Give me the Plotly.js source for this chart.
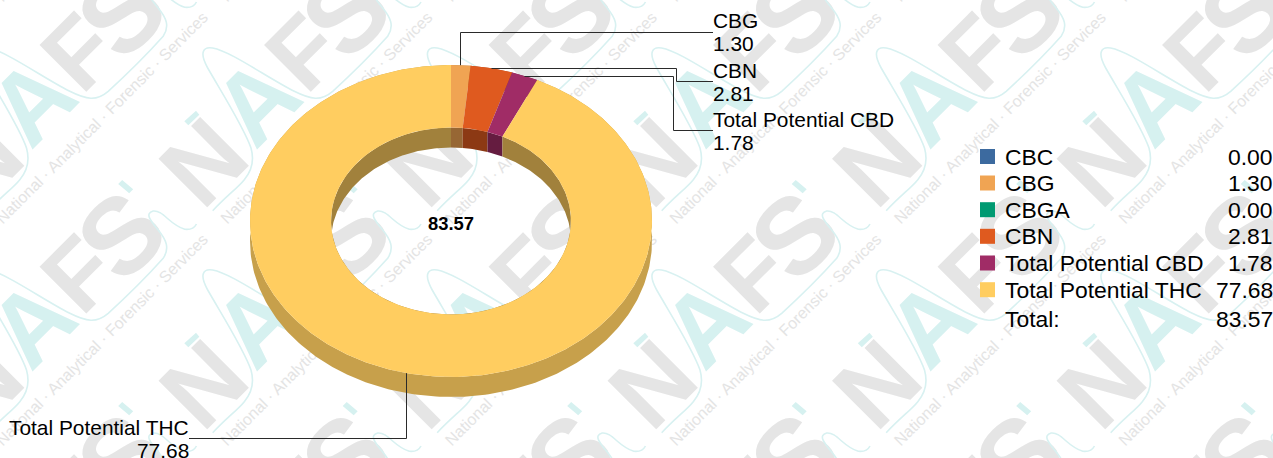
<!DOCTYPE html>
<html>
<head>
<meta charset="utf-8">
<script src="https://cdn.plot.ly/plotly-3.0.1.min.js"></script>
<style>html,body{margin:0;padding:0;background:#fff;overflow:hidden}#chart{width:1273px;height:458px}
.layer-below .shapelayer{filter:blur(.6px)}</style>
</head>
<body>
<div id="chart"></div>
<script>
// ---------- chart data ----------
const categories = ["CBC", "CBG", "CBGA", "CBN", "Total Potential CBD", "Total Potential THC"];
const values = [0.00, 1.30, 0.00, 2.81, 1.78, 77.68];
const totalLabel = "Total:";
const totalValue = 83.57;
const seriesColors = ["#3C6A9F", "#F0A453", "#009A72", "#DF5A1F", "#A02C66", "#FFCD60"];

// ---------- layout constants ----------
const FONT = '"Liberation Sans", Arial, sans-serif';
const W = 1273, H = 458;
const CX = 451, CY = 221, RX = 201, RY = 156, IRX = 120, IRY = 93.5, DEPTH = 20;

function shade(hex, f) {
  const n = parseInt(hex.slice(1), 16);
  const c = [n >> 16, (n >> 8) & 255, n & 255].map(v => Math.round(v * f));
  return 'rgb(' + c.join(',') + ')';
}
function pt(rx, ry, deg, dy) {
  const a = deg * Math.PI / 180;
  return [CX + rx * Math.sin(a), CY - ry * Math.cos(a) + (dy || 0)];
}
function arc(rx, ry, a0, a1, dy) {
  const out = [], n = Math.max(2, Math.ceil(Math.abs(a1 - a0)));
  for (let i = 0; i <= n; i++) out.push(pt(rx, ry, a0 + (a1 - a0) * i / n, dy));
  return out;
}
function poly(points, color) {
  return {
    type: 'scatter', mode: 'lines', x: points.map(p => p[0]), y: points.map(p => p[1]),
    fill: 'toself', fillcolor: color, line: {width: 0, color: color}, hoverinfo: 'skip', showlegend: false
  };
}

const sum = values.reduce((a, b) => a + b, 0);
const sectors = [];
let acc = 0;
values.forEach((v, i) => {
  const a0 = acc / sum * 360; acc += v;
  const a1 = acc / sum * 360;
  if (v > 0) sectors.push({i: i, a0: a0, a1: a1, mid: (a0 + a1) / 2});
});

const traces = [];
// side walls
sectors.forEach(s => traces.push(poly(
  arc(RX, RY, s.a0, s.a1).concat(arc(RX, RY, s.a1, s.a0, DEPTH)), shade(seriesColors[s.i], 0.78))));
sectors.forEach(s => traces.push(poly(
  arc(IRX, IRY, s.a0, s.a1).concat(arc(IRX, IRY, s.a1, s.a0, DEPTH)), shade(seriesColors[s.i], 0.63))));
// top faces
sectors.forEach(s => traces.push(poly(
  arc(RX, RY, s.a0, s.a1).concat(arc(IRX, IRY, s.a1, s.a0)), seriesColors[s.i])));

// leader lines: elbows for each labelled slice
const leaderRoute = {
  1: [[null, 32.5], [713, 32.5]],
  3: [[null, 68.5], [676.5, 68.5], [676.5, 81.5], [713, 81.5]],
  4: [[null, 76.5], [673.5, 76.5], [673.5, 130.5], [713, 130.5]],
  5: [[null, 438.5], [189, 438.5]]
};
sectors.forEach(s => {
  const r = leaderRoute[s.i];
  const p0 = pt(RX, RY, s.mid);
  const sx = Math.round(p0[0] - 0.5) + 0.5;
  const startY = r[0][1] === 68.5 || r[0][1] === 76.5 ? r[0][1] : p0[1];
  const pts = [[sx, startY], [sx, r[0][1]]].concat(r.slice(1));
  traces.push({
    type: 'scatter', mode: 'lines', x: pts.map(p => p[0]), y: pts.map(p => p[1]),
    line: {color: '#2a2a2a', width: 1}, hoverinfo: 'skip', showlegend: false
  });
});

// legend swatches
const rowY = [156.5, 183, 209.7, 236.3, 263, 289.7];
const totalRowY = 319;
traces.push({
  type: 'scatter', mode: 'markers', x: categories.map(() => 987.5), y: rowY,
  marker: {symbol: 'square', size: 15, color: seriesColors, line: {width: 0}},
  hoverinfo: 'skip', showlegend: false
});

// ---------- text ----------
const annotations = [];
function label(text, x, y, size, anchor, bold) {
  annotations.push({
    text: bold ? '<b>' + text + '</b>' : text, x: x, y: y, xref: 'x', yref: 'y',
    xanchor: anchor, yanchor: 'middle', showarrow: false,
    font: {family: FONT, size: size, color: '#000'}, borderpad: 0, borderwidth: 0
  });
}
categories.forEach((c, i) => {
  label(c, 1005, rowY[i], 22.9, 'left');
  label(values[i].toFixed(2), 1272.5, rowY[i], 22.9, 'right');
});
label(totalLabel, 1005, totalRowY, 22.9, 'left');
label(totalValue.toFixed(2), 1272.5, totalRowY, 22.9, 'right');
label(totalValue.toFixed(2), 450.5, 223, 18.4, 'center', true);

const calloutY = {1: [20.5, 43.5], 3: [70.5, 93.5], 4: [119.5, 142.5]};
[1, 3, 4].forEach(i => {
  label(categories[i], 713, calloutY[i][0], 20.9, 'left');
  label(values[i].toFixed(2), 713, calloutY[i][1], 20.9, 'left');
});
label(categories[5], 189, 427.5, 20.9, 'right');
label(values[5].toFixed(2), 189, 450.5, 20.9, 'right');

// ---------- watermark (tiled behind the chart) ----------
const shapes = [];
const TILE_X = 224.5, TILE_Y = 222, OX = 650, OY = 150;
const GREY = '#e5e5e5', AQUA = '#d6f1f0';
const marks = [
  {t: 'N', x: -12, y: 682, c: GREY, s: 100, r: 60},
  {t: 'A', x: 146, y: 500, c: AQUA, s: 100, r: 60},
  {t: 'F', x: 288, y: 352, c: GREY, s: 96, r: 60},
  {t: 'S', x: 413, y: 234, c: GREY, s: 108, r: 60},
  {t: 'National · Analytical · Forensic · Services', x: 372, y: 565, c: '#e4e4e4', s: 16, r: 115, plain: true}
];
const swoosh = 'M35,848 C80,800 110,780 130,755 C155,725 160,695 150,660 C130,600 60,490 20,420 C-5,375 5,355 35,360 C90,370 200,450 280,490 C330,515 360,520 395,490 C450,440 520,370 560,325 C580,295 570,270 545,240 C520,210 505,190 530,183 C560,180 580,225 625,238 C645,240 655,232 660,222';
const dots = ['M-50,580 L-15,548 L-5,560 L-38,592 Z', 'M437,90 L470,118 L458,130 L425,102 Z'];
function mapPath(d, kx, ky) {
  return d.replace(/(-?[\d.]+),(-?[\d.]+)/g, (m, a, b) =>
    (OX + a / 3 + kx * TILE_X).toFixed(1) + ',' + (OY + b / 3 + ky * TILE_Y).toFixed(1));
}
for (let kx = -3; kx <= 3; kx++) {
  for (let ky = -2; ky <= 1; ky++) {
    marks.forEach(m => {
      const x = OX + m.x / 3 + kx * TILE_X, y = OY + m.y / 3 + ky * TILE_Y;
      if (x + m.r < 0 || x - m.r > W || y + m.r < 0 || y - m.r > H) return;
      shapes.push({
        type: 'rect', layer: 'below', xref: 'x', yref: 'y',
        x0: x - 2, x1: x + 2, y0: y - 2, y1: y + 2,
        line: {width: 0}, fillcolor: 'rgba(0,0,0,0)',
        label: {
          text: m.plain ? m.t : '<b>' + m.t + '</b>',
          textangle: -45, textposition: 'middle center', padding: 0,
          font: {family: FONT, size: m.s, color: m.c}
        }
      });
    });
    shapes.push({
      type: 'path', layer: 'below', xref: 'x', yref: 'y', path: mapPath(swoosh, kx, ky),
      line: {color: '#d8f1f1', width: 1.6}, fillcolor: 'rgba(0,0,0,0)'
    });
    dots.forEach(d => shapes.push({
      type: 'path', layer: 'below', xref: 'x', yref: 'y', path: mapPath(d, kx, ky),
      line: {width: 0}, fillcolor: AQUA
    }));
  }
}

Plotly.newPlot('chart', traces, {
  width: W, height: H,
  margin: {l: 0, r: 0, t: 0, b: 0, pad: 0},
  paper_bgcolor: '#fff', plot_bgcolor: 'rgba(0,0,0,0)',
  showlegend: false,
  xaxis: {range: [0, W], visible: false, fixedrange: true},
  yaxis: {range: [H, 0], visible: false, fixedrange: true},
  annotations: annotations, shapes: shapes
}, {displayModeBar: false, staticPlot: true});
</script>
</body>
</html>
